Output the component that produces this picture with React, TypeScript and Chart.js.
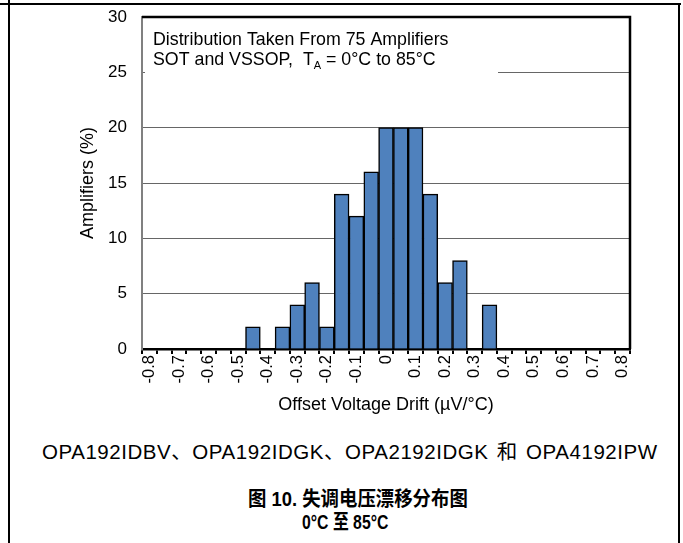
import React, { useEffect, useRef } from "react";
import { Chart, registerables } from "chart.js";

Chart.register(...registerables);

const categories = [
  "-0.8", "-0.75", "-0.7", "-0.65", "-0.6", "-0.55", "-0.5", "-0.45", "-0.4", "-0.35", "-0.3",
  "-0.25", "-0.2", "-0.15", "-0.1", "-0.05", "0", "0.05", "0.1", "0.15", "0.2", "0.25",
  "0.3", "0.35", "0.4", "0.45", "0.5", "0.55", "0.6", "0.65", "0.7", "0.75", "0.8",
];

const amplifiersPct = [
  0, 0, 0, 0, 0, 0, 0, 2, 0, 2, 4,
  6, 2, 14, 12, 16, 20, 20, 20, 14, 6, 8,
  0, 4, 0, 0, 0, 0, 0, 0, 0, 0, 0,
];

const xTickLabels = [
  "-0.8", "", "-0.7", "", "-0.6", "", "-0.5", "", "-0.4", "", "-0.3",
  "", "-0.2", "", "-0.1", "", "0", "", "0.1", "", "0.2", "",
  "0.3", "", "0.4", "", "0.5", "", "0.6", "", "0.7", "", "0.8",
];

const yTickValues = [0, 5, 10, 15, 20, 25, 30];

const noteLine1 = "Distribution Taken From 75 Amplifiers";
const noteLine2Parts = ["SOT and VSSOP,  T", "A", " = 0°C to 85°C"];

const xTitle = "Offset Voltage Drift (µV/°C)";
const yTitle = "Amplifiers (%)";
const captionDevices = "OPA192IDBV、OPA192IDGK、OPA2192IDGK 和 OPA4192IPW";
const captionFigure = "图 10. 失调电压漂移分布图";
const captionRange = "0°C 至 85°C";

const FONT = '"Liberation Sans", Arial, Helvetica, sans-serif';
const CAPTION_FONT = '"Liberation Sans", Arial, "Noto Sans CJK SC", sans-serif';

const notePlugin = {
  id: "noteAndFrame",
  beforeDatasetsDraw(chart: any) {
    const { ctx, chartArea: a } = chart;
    ctx.save();
    ctx.fillStyle = "#ffffff";
    ctx.fillRect(a.left + 3, a.top + 4, 353, 56);
    ctx.fillStyle = "#000000";
    ctx.textBaseline = "alphabetic";
    ctx.textAlign = "left";
    const big = `17.8px ${FONT}`;
    const small = `11px ${FONT}`;
    const x0 = a.left + 11;
    ctx.font = big;
    ctx.fillText(noteLine1, x0, a.top + 28);
    let cx = x0;
    ctx.fillText(noteLine2Parts[0], cx, a.top + 48);
    cx += ctx.measureText(noteLine2Parts[0]).width;
    ctx.font = small;
    ctx.fillText(noteLine2Parts[1], cx, a.top + 52);
    cx += ctx.measureText(noteLine2Parts[1]).width;
    ctx.font = big;
    ctx.fillText(noteLine2Parts[2], cx, a.top + 48);
    ctx.restore();
  },
  afterDraw(chart: any) {
    const { ctx, chartArea: a } = chart;
    ctx.save();
    ctx.strokeStyle = "#000000";
    ctx.lineWidth = 2.5;
    ctx.beginPath();
    ctx.moveTo(a.left, a.top);
    ctx.lineTo(a.right, a.top);
    ctx.lineTo(a.right, a.bottom);
    ctx.stroke();
    ctx.restore();
  },
};

export default function App() {
  const canvasRef = useRef<HTMLCanvasElement | null>(null);

  useEffect(() => {
    if (!canvasRef.current) return;
    const chart = new Chart(canvasRef.current, {
      type: "bar",
      data: {
        labels: categories,
        datasets: [
          {
            data: amplifiersPct,
            backgroundColor: "#4f81bd",
            borderColor: "#000000",
            borderWidth: 1.5,
            barPercentage: 1,
            categoryPercentage: 1,
          },
        ],
      },
      options: {
        animation: false,
        responsive: false,
        maintainAspectRatio: false,
        devicePixelRatio: 1,
        layout: { padding: { left: 73, top: 17, right: 53, bottom: 10 } },
        plugins: {
          legend: { display: false },
          tooltip: { enabled: false },
        },
        scales: {
          x: {
            type: "category",
            offset: true,
            grid: {
              display: true,
              drawOnChartArea: false,
              drawTicks: true,
              tickLength: 5,
              color: "#000000",
              lineWidth: 2,
              offset: true,
            },
            border: { display: true, color: "#000000", width: 2.5 },
            ticks: {
              autoSkip: false,
              minRotation: 90,
              maxRotation: 90,
              padding: 1,
              color: "#000000",
              font: { family: FONT, size: 16.5 },
              callback: (_v: any, i: number) => xTickLabels[i],
            },
            title: {
              display: true,
              text: xTitle,
              color: "#000000",
              font: { family: FONT, size: 18 },
            },
            afterFit: (s: any) => {
              s.height = 71;
              s.paddingLeft = 0;
              s.paddingRight = 0;
            },
          },
          y: {
            min: 0,
            max: 30,
            afterBuildTicks: (s: any) => {
              s.ticks = yTickValues.map((v) => ({ value: v }));
            },
            ticks: {
              stepSize: 5,
              padding: 15,
              color: "#000000",
              font: { family: FONT, size: 17 },
            },
            grid: { color: "#666666", lineWidth: 1, drawTicks: false },
            border: { display: true, color: "#808080", width: 2 },
            title: {
              display: true,
              text: yTitle,
              color: "#000000",
              font: { family: FONT, size: 18 },
            },
            afterFit: (s: any) => {
              s.width = 69;
              s.paddingTop = 0;
              s.paddingBottom = 0;
            },
          },
        },
      },
      plugins: [notePlugin],
    } as any);
    return () => chart.destroy();
  }, []);

  const line = (extra: React.CSSProperties): React.CSSProperties => ({
    position: "absolute",
    background: "#000",
    ...extra,
  });

  return (
    <div
      style={{
        position: "fixed",
        left: 0,
        top: 0,
        width: 683,
        height: 543,
        background: "#fff",
        overflow: "hidden",
      }}
    >
      <canvas
        ref={canvasRef}
        width={683}
        height={430}
        style={{ position: "absolute", left: 0, top: 0, width: 683, height: 430 }}
      />
      <div style={line({ left: 0, top: 3, width: 681, height: 2 })} />
      <div style={line({ left: 8, top: 0, width: 2, height: 543 })} />
      <div style={line({ left: 678, top: 3, width: 2, height: 540 })} />
      <div
        style={{
          position: "absolute",
          left: 42,
          top: 442,
          fontFamily: CAPTION_FONT,
          fontSize: 20.5,
          lineHeight: "20.5px",
          letterSpacing: "0.55px",
          wordSpacing: "2px",
          whiteSpace: "nowrap",
          color: "#000",
        }}
      >
        {captionDevices}
      </div>
      <div
        style={{
          position: "absolute",
          left: 248,
          top: 489,
          fontFamily: CAPTION_FONT,
          fontSize: 20,
          lineHeight: "20px",
          fontWeight: "bold",
          whiteSpace: "nowrap",
          color: "#000",
          transform: "scaleX(0.92)",
          transformOrigin: "left top",
        }}
      >
        {captionFigure}
      </div>
      <div
        style={{
          position: "absolute",
          left: 302,
          top: 512,
          fontFamily: CAPTION_FONT,
          fontSize: 20,
          lineHeight: "20px",
          fontWeight: "bold",
          whiteSpace: "nowrap",
          color: "#000",
          transform: "scaleX(0.79)",
          transformOrigin: "left top",
        }}
      >
        {captionRange}
      </div>
    </div>
  );
}
